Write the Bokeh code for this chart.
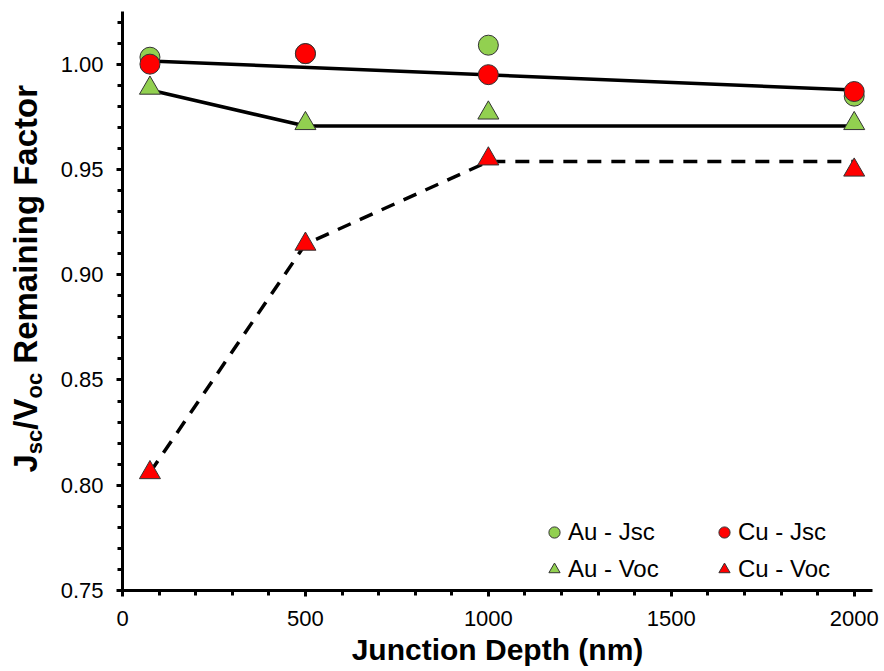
import math
from bokeh.plotting import figure
from bokeh.layouts import row
from bokeh.models import (Range1d, FixedTicker, NumeralTickFormatter, Legend, LegendItem)
from bokeh.core.properties import value
from bokeh.embed import file_html
from bokeh.resources import INLINE

# ---- data ----
depth = [75, 500, 1000, 2000]
au_jsc = [1.0033, 1.005, 1.009, 0.9848]
cu_jsc = [1.000, 1.005, 0.995, 0.987]
au_voc = [0.9886, 0.9718, 0.9768, 0.9718]
cu_voc = [0.806, 0.9145, 0.955, 0.9497]

jsc_fit_x = [75, 2000]
jsc_fit_y = [1.0015, 0.9877]
au_voc_fit_x = [75, 500, 2000]
au_voc_fit_y = [0.9877, 0.9706, 0.9706]
cu_voc_fit_x = [75, 500, 1000, 2000]
cu_voc_fit_y = [0.806, 0.9145, 0.9537, 0.9537]

x_ticks = [0, 500, 1000, 1500, 2000]
x_minor = [i * 100 for i in range(0, 21)]
y_ticks = [0.75, 0.80, 0.85, 0.90, 0.95, 1.00]
y_minor = [round(0.75 + i * 0.01, 2) for i in range(0, 28)]

FONT = "Liberation Sans"
GREEN = "#92D050"
RED = "#FF0000"
EDGE = "#333333"

TOP, BOTTOM = 11, 81
LEFT_W = 50
p = figure(width=884 - LEFT_W, height=671, output_backend="svg", toolbar_location=None,
           x_range=Range1d(0, 2050), y_range=Range1d(0.75, 1.025),
           min_border_left=122 - LEFT_W, min_border_right=12, min_border_top=TOP, min_border_bottom=BOTTOM)
p.outline_line_color = None
p.xgrid.visible = False
p.ygrid.visible = False

for ax in (p.xaxis[0], p.yaxis[0]):
    ax.axis_line_width = 3
    ax.axis_line_color = "black"
    ax.major_tick_line_width = 3
    ax.minor_tick_line_width = 3
    ax.major_tick_out = 6
    ax.major_tick_in = 0
    ax.minor_tick_out = 5
    ax.minor_tick_in = 0
    ax.major_label_text_font = FONT
    ax.major_label_text_font_size = "22px"
    ax.major_label_text_color = "black"
p.xaxis[0].major_label_standoff = 14
p.yaxis[0].major_label_standoff = 13

p.xaxis[0].ticker = FixedTicker(ticks=x_ticks, minor_ticks=x_minor)
p.yaxis[0].ticker = FixedTicker(ticks=y_ticks, minor_ticks=y_minor)
p.yaxis[0].formatter = NumeralTickFormatter(format="0.00")
p.xaxis[0].formatter = NumeralTickFormatter(format="0")

p.xaxis[0].axis_label = "Junction Depth (nm)"
p.xaxis[0].axis_label_text_font = FONT
p.xaxis[0].axis_label_text_font_size = "30px"
p.xaxis[0].axis_label_text_font_style = "bold"
p.xaxis[0].axis_label_text_color = "black"
p.xaxis[0].axis_label_standoff = 4

# lines
p.line(jsc_fit_x, jsc_fit_y, line_color="black", line_width=3.5)
p.line(au_voc_fit_x, au_voc_fit_y, line_color="black", line_width=3.5)
p.line(cu_voc_fit_x, cu_voc_fit_y, line_color="black", line_width=3.5, line_dash="14 10")

# markers
r_au_jsc = p.scatter(depth, au_jsc, marker="circle", size=20, fill_color=GREEN, line_color=EDGE, line_width=1)
r_au_voc = p.scatter(depth, au_voc, marker="triangle", size=21, fill_color=GREEN, line_color=EDGE, line_width=1)
r_cu_jsc = p.scatter(depth, cu_jsc, marker="circle", size=20, fill_color=RED, line_color=EDGE, line_width=1)
r_cu_voc = p.scatter(depth, cu_voc, marker="triangle", size=21, fill_color=RED, line_color=EDGE, line_width=1)

legend = Legend(items=[
    LegendItem(label="Au - Jsc", renderers=[r_au_jsc]),
    LegendItem(label="Au - Voc", renderers=[r_au_voc]),
    LegendItem(label="Cu - Jsc", renderers=[r_cu_jsc]),
    LegendItem(label="Cu - Voc", renderers=[r_cu_voc]),
], location=(418, 7), orientation="vertical", ncols=2)
legend.border_line_color = None
legend.background_fill_alpha = 0
legend.padding = 0
legend.margin = 0
legend.spacing = 9
legend.glyph_width = 28
legend.glyph_height = 28
legend.label_height = 28
legend.label_width = 133
legend.label_standoff = 0
legend.label_text_font = FONT
legend.label_text_font_size = "24px"
legend.label_text_color = "black"
p.add_layout(legend, "center")

# ---- y-axis title strip (with subscripts) ----
# frame of this strip spans canvas rows TOP..671-BOTTOM; data y = pixels from the bottom of the canvas
q = figure(width=LEFT_W, height=671, output_backend="svg", toolbar_location=None,
           x_range=Range1d(0, LEFT_W), y_range=Range1d(BOTTOM, 671 - TOP),
           x_axis_location=None, y_axis_location=None,
           min_border_left=0, min_border_right=0, min_border_top=TOP, min_border_bottom=BOTTOM)
q.outline_line_color = None
q.xgrid.visible = False
q.ygrid.visible = False

W = {"J": 556, "s": 556, "c": 556, "/": 278, "V": 667, "o": 611, " ": 278, "R": 722,
     "e": 556, "m": 889, "a": 556, "i": 278, "n": 611, "g": 611, "F": 611, "t": 333, "r": 389}
BIG = 33
SUB = 22
# (text, font size, baseline x)
pieces = [("J", BIG, 36), ("sc", SUB, 42), ("/V", BIG, 36), ("oc", SUB, 42), (" ", BIG, 36), ("Remaining Factor", BIG, 36)]
pos = 671 - 472
for t, fs, bx in pieces:
    if t.strip():
        q.text(x=[bx - 0.347 * fs], y=[pos], text=[t], angle=math.pi / 2,
               text_font=value(FONT), text_font_size=value(f"{fs}px"), text_font_style="bold",
               text_color="black", text_align="left", text_baseline="middle")
    pos += sum(W[ch] for ch in t) / 1000 * fs

layout = row(q, p, spacing=0)
open("out.html", "w").write(file_html(layout, INLINE))
